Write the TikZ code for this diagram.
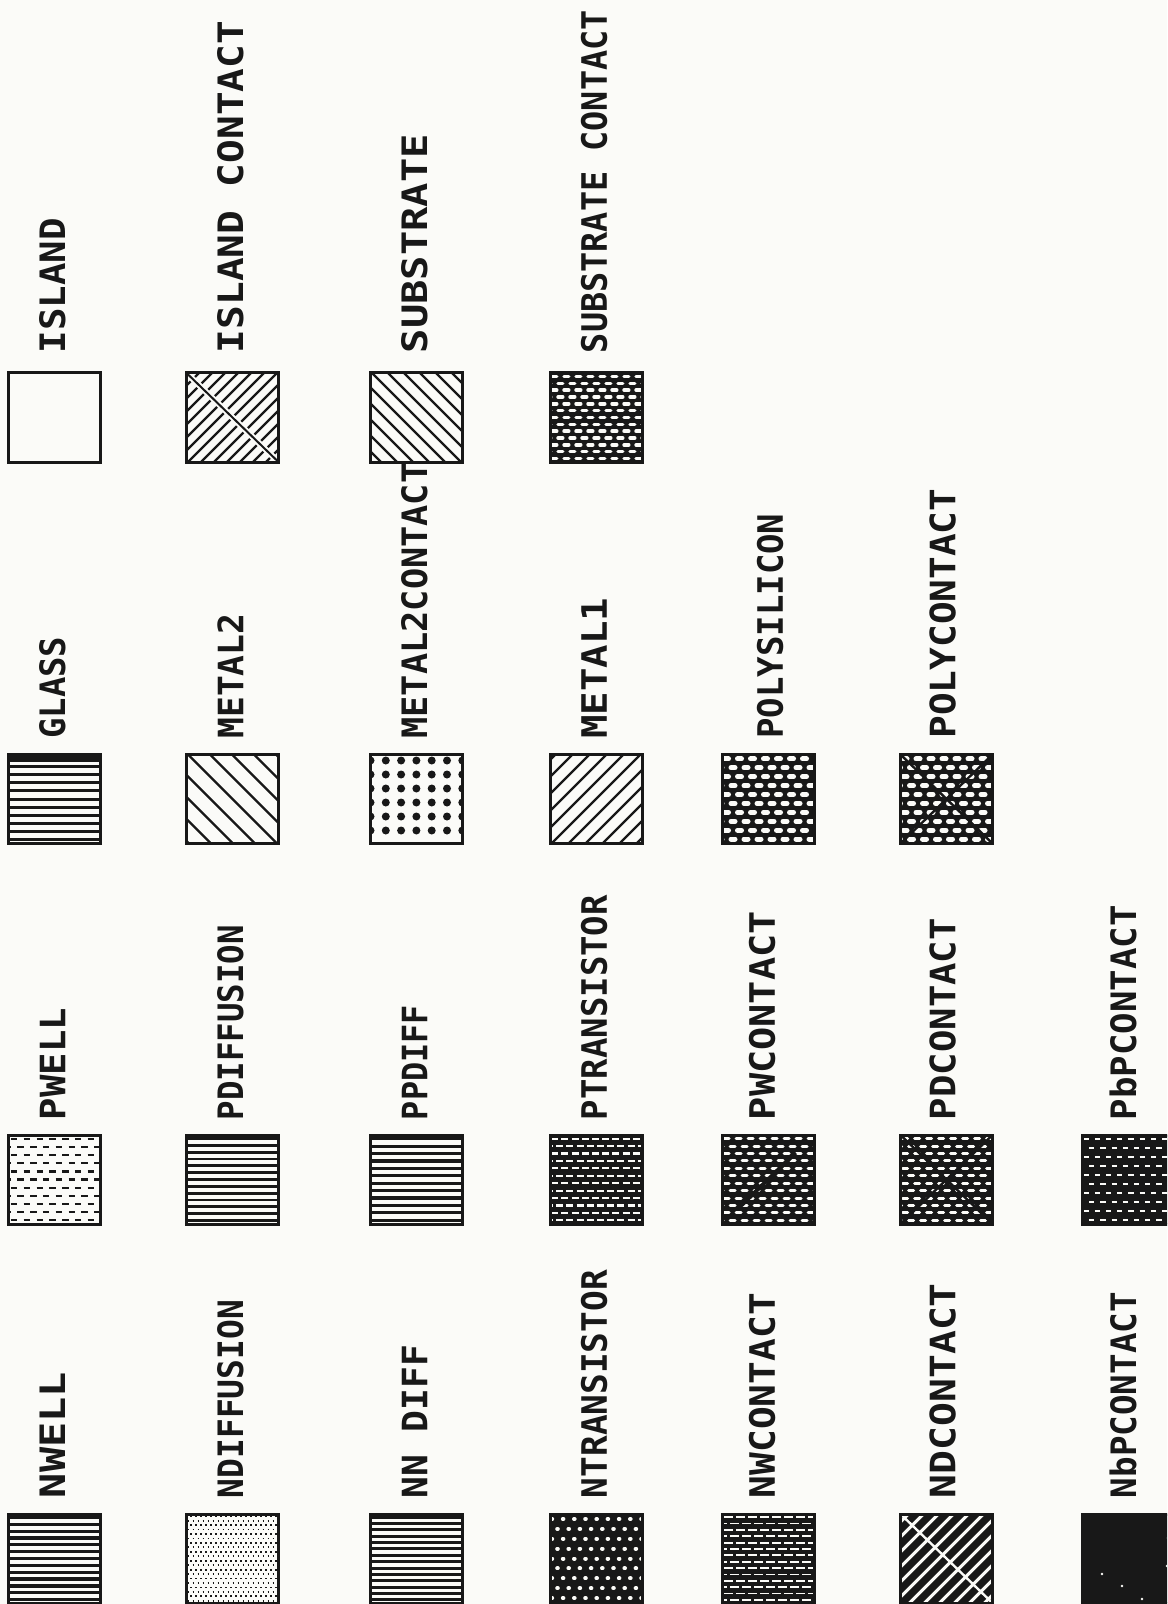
\documentclass[tikz,border=0pt]{standalone}
\usepackage{graphicx}
\usepackage{fontspec}
\newfontfamily\lettering{DejaVu Sans Mono}
\usetikzlibrary{calc}
\definecolor{paper}{RGB}{251,251,248}
\definecolor{ink}{RGB}{24,24,24}

% fill helpers, used inside path picture
\def\pb{path picture bounding box}
\newcommand\rowfill[3]{%
  \foreach \k in {1,...,#1}{%
    \pgfmathsetmacro\ph{mod(\k,2)*#3}%
    \draw[#2,dash phase=\ph pt] ($(\pb.north west)+(-4,{(\k-0.5)*89/#1})$) -- ++(100,0);
  }}
\newcommand\diagfill[3]{%
  \foreach \k in {-9,...,9}
    \draw[#3] ($(\pb.center)+({\k*#1-70},{-70*#2})$) -- ++(140,{140*#2});}
% hand lettering runs to a given length
\newcommand\fitlbl[2]{\resizebox{#1}{\height}{#2}}

\tikzset{
  swatch/.style={draw=ink, line width=1.5pt, fill=paper, minimum width=46pt,
    minimum height=44.5pt, inner sep=0pt},
  dark/.style={swatch, fill=ink},
  layer/.style={rotate=90, anchor=west, inner sep=0pt, text=ink,
    font=\lettering\bfseries\fontsize{17.5}{18}\selectfont},
}

\begin{document}
\begin{tikzpicture}[x=0.5pt,y=-0.5pt]
  \useasboundingbox (0,0) rectangle (1167,1604);
  \clip (0,0) rectangle (1167,1604);
  \fill[paper] (0,0) rectangle (1167,1604);

  % n layers
  \node[swatch, path picture={\rowfill{13}{ink,line width=1.6pt}{0}}] (nwell) at (54.5,1558.5) {};
  \node[swatch, path picture={\rowfill{20}{ink,line width=0.9pt,dash pattern=on 0.9pt off 1.6pt}{1.25}}] (ndiff) at (232.5,1558.5) {};
  \node[swatch, path picture={\rowfill{14}{ink,line width=1.5pt}{0}}] (nndiff) at (416.5,1558.5) {};
  \node[dark, path picture={\rowfill{9}{paper,line width=2pt,line cap=round,dash pattern=on 0.3pt off 5.3pt}{2.8}}] (ntrans) at (596,1558.5) {};
  \node[dark, path picture={\rowfill{14}{paper,line width=0.9pt,dash pattern=on 4.5pt off 1.5pt}{3}}] (nwcont) at (768,1558.5) {};
  \node[swatch, path picture={\diagfill{15}{-1}{ink,line width=3.6pt}
      \draw[paper,line width=1.2pt] (\pb.north west) -- (\pb.south east);}] (ndcont) at (946.5,1558.5) {};
  \node[dark, path picture={\foreach \a/\b in {88/10,86/24,89/38,85/52,88/66,40/72,20/60,60/85}
      \fill[paper] ($(\pb.north west)+(\a,\b)$) circle (0.7pt);}] (ndpcont) at (1128,1558.5) {};

  \node[layer] (nwell-l) at ([xshift=-1pt,yshift=7pt]nwell.north) {\fitlbl{63pt}{NWELL}};
  \node[layer] (ndiff-l) at ([xshift=-1pt,yshift=7pt]ndiff.north) {\fitlbl{99pt}{NDIFFUSION}};
  \node[layer] (nndiff-l) at ([xshift=-1pt,yshift=7pt]nndiff.north) {\fitlbl{76.5pt}{NN DIFF}};
  \node[layer] (ntrans-l) at ([xshift=-1pt,yshift=7pt]ntrans.north) {\fitlbl{114pt}{NTRANSISTOR}};
  \node[layer] (nwcont-l) at ([xshift=-3pt,yshift=7pt]nwcont.north) {\fitlbl{102.5pt}{NWCONTACT}};
  \node[layer] (ndcont-l) at ([xshift=-2pt,yshift=7pt]ndcont.north) {\fitlbl{107.5pt}{NDCONTACT}};
  \node[layer] (ndpcont-l) at ([xshift=-2.5pt,yshift=7pt]ndpcont.north) {\fitlbl{103pt}{NbPCONTACT}};

  % p layers
  \node[swatch, path picture={\rowfill{11}{ink,line width=1.1pt,dash pattern=on 3.2pt off 3.2pt}{3.2}}] (pwell) at (54.5,1179.5) {};
  \node[swatch, path picture={\rowfill{13}{ink,line width=1.4pt}{0}}] (pdiff) at (232.5,1179.5) {};
  \node[swatch, path picture={\rowfill{12}{ink,line width=1.6pt}{0}}] (ppdiff) at (416.5,1179.5) {};
  \node[dark, path picture={\rowfill{12}{paper,line width=1.1pt,dash pattern=on 3.5pt off 1.6pt}{2.5}}] (ptrans) at (596,1179.5) {};
  \node[dark, path picture={\rowfill{12}{paper,line width=1.5pt,line cap=round,dash pattern=on 2.6pt off 3.4pt}{3}
      \draw[ink,line width=2pt] ($(\pb.south west)!0.2!(\pb.north east)$) -- ($(\pb.south west)!0.8!(\pb.north east)$);}] (pwcont) at (768,1179.5) {};
  \node[dark, path picture={\rowfill{12}{paper,line width=1.5pt,line cap=round,dash pattern=on 2.6pt off 3.4pt}{3}
      \draw[ink,line width=1.2pt] (\pb.north west) -- (\pb.south east) (\pb.south west) -- (\pb.north east);}] (pdcont) at (946.5,1179.5) {};
  \node[dark, path picture={\rowfill{10}{paper,line width=1pt,dash pattern=on 2.6pt off 3pt}{2.8}}] (pdpcont) at (1128,1179.5) {};

  \node[layer] (pwell-l) at ([xshift=-1pt,yshift=6.5pt]pwell.north) {\fitlbl{56pt}{PWELL}};
  \node[layer] (pdiff-l) at ([xshift=-1pt,yshift=6.5pt]pdiff.north) {\fitlbl{97.5pt}{PDIFFUSION}};
  \node[layer] (ppdiff-l) at ([xshift=-1pt,yshift=6.5pt]ppdiff.north) {\fitlbl{57.5pt}{PPDIFF}};
  \node[layer] (ptrans-l) at ([xshift=-1pt,yshift=6.5pt]ptrans.north) {\fitlbl{112.5pt}{PTRANSISTOR}};
  \node[layer] (pwcont-l) at ([xshift=-3pt,yshift=6.5pt]pwcont.north) {\fitlbl{104.5pt}{PWCONTACT}};
  \node[layer] (pdcont-l) at ([xshift=-2pt,yshift=6.5pt]pdcont.north) {\fitlbl{101pt}{PDCONTACT}};
  \node[layer] (pdpcont-l) at ([xshift=-2.5pt,yshift=6.5pt]pdpcont.north) {\fitlbl{107.5pt}{PbPCONTACT}};

  % metal and poly
  \node[swatch, path picture={\rowfill{11}{ink,line width=1.5pt}{0}
      \fill[ink] (\pb.north west) rectangle ($(\pb.north east)+(0,7)$);}] (glass) at (54.5,799) {};
  \node[swatch, path picture={\diagfill{22}{1}{ink,line width=1.1pt}}] (metal2) at (232.5,799) {};
  \node[swatch, path picture={\foreach \i in {0,...,6} \foreach \j in {0,...,5}
      \fill[ink] ($(\pb.north west)+({\i*15.3},{6+\j*14})$) circle (2pt);}] (m2cont) at (416.5,799) {};
  \node[swatch, path picture={\diagfill{17}{-1}{ink,line width=1.1pt}}] (metal1) at (596,799) {};
  \node[dark, path picture={\rowfill{10}{paper,line width=2.5pt,line cap=round,dash pattern=on 2pt off 4.5pt}{3.25}}] (poly) at (768,799) {};
  \node[dark, path picture={\rowfill{10}{paper,line width=2.5pt,line cap=round,dash pattern=on 2pt off 4.5pt}{3.25}
      \draw[ink,line width=1.2pt] (\pb.north west) -- (\pb.south east) (\pb.south west) -- (\pb.north east);}] (polycont) at (946.5,799) {};

  \node[layer] (glass-l) at ([xshift=-1pt,yshift=7pt]glass.north) {\fitlbl{51pt}{GLASS}};
  \node[layer] (metal2-l) at ([xshift=-1pt,yshift=7pt]metal2.north) {\fitlbl{62.5pt}{METAL2}};
  \node[layer] (m2cont-l) at ([xshift=-1pt,yshift=7pt]m2cont.north) {\fitlbl{138pt}{METAL2CONTACT}};
  \node[layer] (metal1-l) at ([xshift=-1pt,yshift=7pt]metal1.north) {\fitlbl{70.5pt}{METAL1}};
  \node[layer] (poly-l) at ([xshift=1pt,yshift=7pt]poly.north) {\fitlbl{112.5pt}{POLYSILICON}};
  \node[layer] (polycont-l) at ([xshift=-2pt,yshift=7pt]polycont.north) {\fitlbl{125pt}{POLYCONTACT}};

  % island and substrate
  \node[swatch] (island) at (54.5,417.5) {};
  \node[swatch, path picture={\diagfill{13}{-1}{ink,line width=1.1pt}
      \draw[paper,line width=3pt] (\pb.north west) -- (\pb.south east);
      \draw[ink,line width=1pt] (\pb.north west) -- (\pb.south east);}] (islcont) at (232.5,417.5) {};
  \node[swatch, path picture={\diagfill{16}{1}{ink,line width=1.2pt}}] (subst) at (416.5,417.5) {};
  \node[dark, path picture={\rowfill{13}{paper,line width=1.7pt,line cap=round,dash pattern=on 2.4pt off 3.6pt}{3}}] (substcont) at (596,417.5) {};

  \node[layer] (island-l) at ([xshift=-1pt,yshift=9pt]island.north) {\fitlbl{67.5pt}{ISLAND}};
  \node[layer] (islcont-l) at ([xshift=-1pt,yshift=9pt]islcont.north) {\fitlbl{166pt}{ISLAND CONTACT}};
  \node[layer] (subst-l) at ([xshift=-1pt,yshift=9pt]subst.north) {\fitlbl{109.5pt}{SUBSTRATE}};
  \node[layer] (substcont-l) at ([xshift=-1pt,yshift=9pt]substcont.north) {\fitlbl{171.5pt}{SUBSTRATE CONTACT}};
\end{tikzpicture}
\end{document}
